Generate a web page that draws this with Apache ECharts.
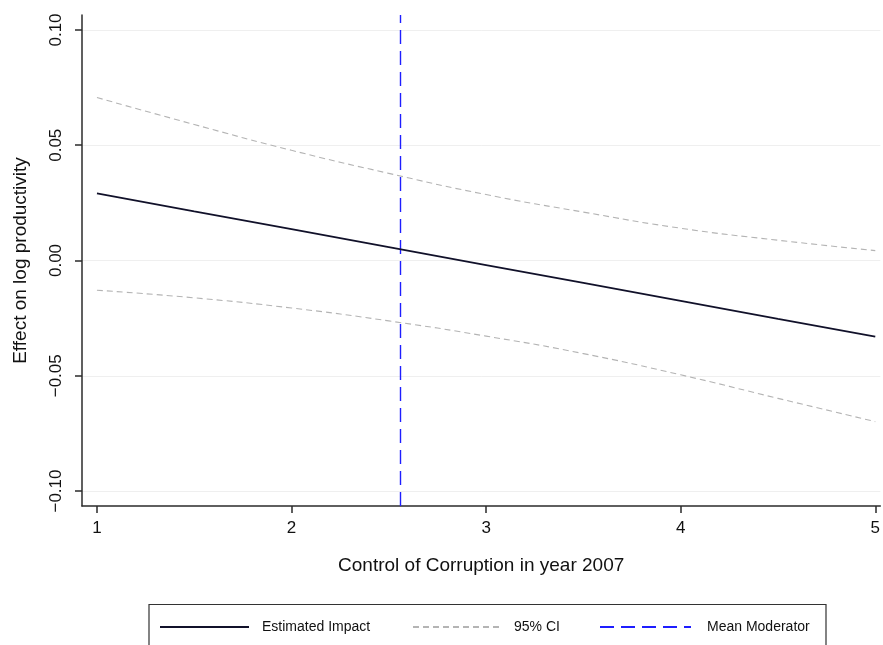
<!DOCTYPE html>
<html>
<head>
<meta charset="utf-8">
<script src="https://cdn.jsdelivr.net/npm/echarts@6/dist/echarts.min.js"></script>
<style>
html,body{margin:0;padding:0;background:#ffffff;}
#chart{width:883px;height:645px;}
</style>
</head>
<body>
<div id="chart"></div>
<script>
// ---- data ----
const xValues = [1, 1.5, 2, 2.5, 3, 3.5, 4, 4.5, 5];
const estimatedImpact = [0.0291, 0.0213, 0.0136, 0.0058, -0.0020, -0.0097, -0.0175, -0.0253, -0.0330];
const upperCI = [0.0707, 0.0590, 0.0478, 0.0378, 0.0286, 0.0210, 0.0140, 0.0088, 0.0043];
const lowerCI = [-0.0129, -0.0162, -0.0206, -0.0262, -0.0328, -0.0404, -0.0496, -0.0598, -0.0699];
const meanModerator = 2.56;
const xTicks = [1, 2, 3, 4, 5];
const yTicks = [-0.10, -0.05, 0.00, 0.05, 0.10];
const xRange = [0.9232, 5.026];
const yRange = [-0.1065, 0.1065];

const pairs = (xs, ys) => xs.map((x, i) => [x, ys[i]]);
const FONT = '"Liberation Sans", Arial, Helvetica, sans-serif';
const AXIS_COLOR = '#2b2b2b';

const chart = echarts.init(document.getElementById('chart'), null, {renderer: 'canvas'});

const ciStyle = {color: '#b4b4b4', width: 1.1, type: [6, 4]};
const modStyle = {color: '#1e1eff', width: 1.4, type: [14, 7]};
const legendText = {fontFamily: FONT, fontSize: 14, color: '#111'};

const option = {
  animation: false,
  backgroundColor: '#ffffff',
  textStyle: {fontFamily: FONT},
  grid: {left: 82, right: 0, top: 15, bottom: 139, containLabel: false},
  xAxis: {
    type: 'value',
    min: xRange[0],
    max: xRange[1],
    name: 'Control of Corruption in year 2007',
    nameLocation: 'middle',
    nameGap: 50,
    nameTextStyle: {fontFamily: FONT, fontSize: 19, color: '#111'},
    axisLine: {show: true, onZero: false, lineStyle: {color: AXIS_COLOR, width: 1.5}},
    axisTick: {show: true, length: 7, customValues: xTicks, lineStyle: {color: AXIS_COLOR, width: 1.5}},
    axisLabel: {show: true, customValues: xTicks, fontFamily: FONT, fontSize: 17, color: '#111', margin: 14},
    splitLine: {show: false}
  },
  yAxis: {
    type: 'value',
    min: yRange[0],
    max: yRange[1],
    name: 'Effect on log productivity',
    nameLocation: 'middle',
    nameGap: 52,
    nameTextStyle: {fontFamily: FONT, fontSize: 19, color: '#111'},
    axisLine: {show: true, onZero: false, lineStyle: {color: AXIS_COLOR, width: 1.5}},
    axisTick: {show: true, length: 7, customValues: yTicks, lineStyle: {color: AXIS_COLOR, width: 1.5}},
    axisLabel: {
      show: true, customValues: yTicks, rotate: 90, fontFamily: FONT, fontSize: 17, color: '#111', margin: 17,
      formatter: v => (v < 0 ? '\u2212' : '') + Math.abs(v).toFixed(2)
    },
    splitLine: {show: true, lineStyle: {color: '#efefef', width: 1}}
  },
  legend: [
    {data: ['Estimated Impact'], left: 159, top: 620, padding: 0, itemWidth: 89, itemHeight: 14,
     itemStyle: {opacity: 0}, textStyle: Object.assign({padding: [0, 0, 0, 8]}, legendText)},
    {data: ['95% CI'], left: 412, top: 620, padding: 0, itemWidth: 86, itemHeight: 14,
     itemStyle: {opacity: 0}, textStyle: Object.assign({padding: [0, 0, 0, 10]}, legendText)},
    {data: ['Mean Moderator'], left: 599, top: 620, padding: 0, itemWidth: 91, itemHeight: 14,
     itemStyle: {opacity: 0}, textStyle: Object.assign({padding: [0, 0, 0, 11]}, legendText)}
  ],
  graphic: [
    {type: 'rect', shape: {x: 149, y: 604.5, width: 677, height: 70},
     style: {fill: 'none', stroke: '#333', lineWidth: 1.2}, silent: true}
  ],
  series: [
    {
      name: 'Estimated Impact', type: 'line', symbol: 'none', smooth: false,
      data: pairs(xValues, estimatedImpact),
      lineStyle: {color: '#11112a', width: 1.8}, itemStyle: {color: '#11112a'}, z: 5
    },
    {
      name: '95% CI', type: 'line', symbol: 'none', smooth: true,
      data: pairs(xValues, upperCI),
      lineStyle: ciStyle, itemStyle: {color: '#b4b4b4'}
    },
    {
      name: '95% CI', type: 'line', symbol: 'none', smooth: true,
      data: pairs(xValues, lowerCI),
      lineStyle: ciStyle, itemStyle: {color: '#b4b4b4'}
    },
    {
      name: 'Mean Moderator', type: 'line', symbol: 'none',
      data: [],
      lineStyle: modStyle, itemStyle: {color: '#1e1eff'},
      markLine: {
        silent: true, symbol: ['none', 'none'], label: {show: false},
        lineStyle: modStyle,
        data: [{xAxis: meanModerator}]
      }
    }
  ]
};
chart.setOption(option);
</script>
</body>
</html>
